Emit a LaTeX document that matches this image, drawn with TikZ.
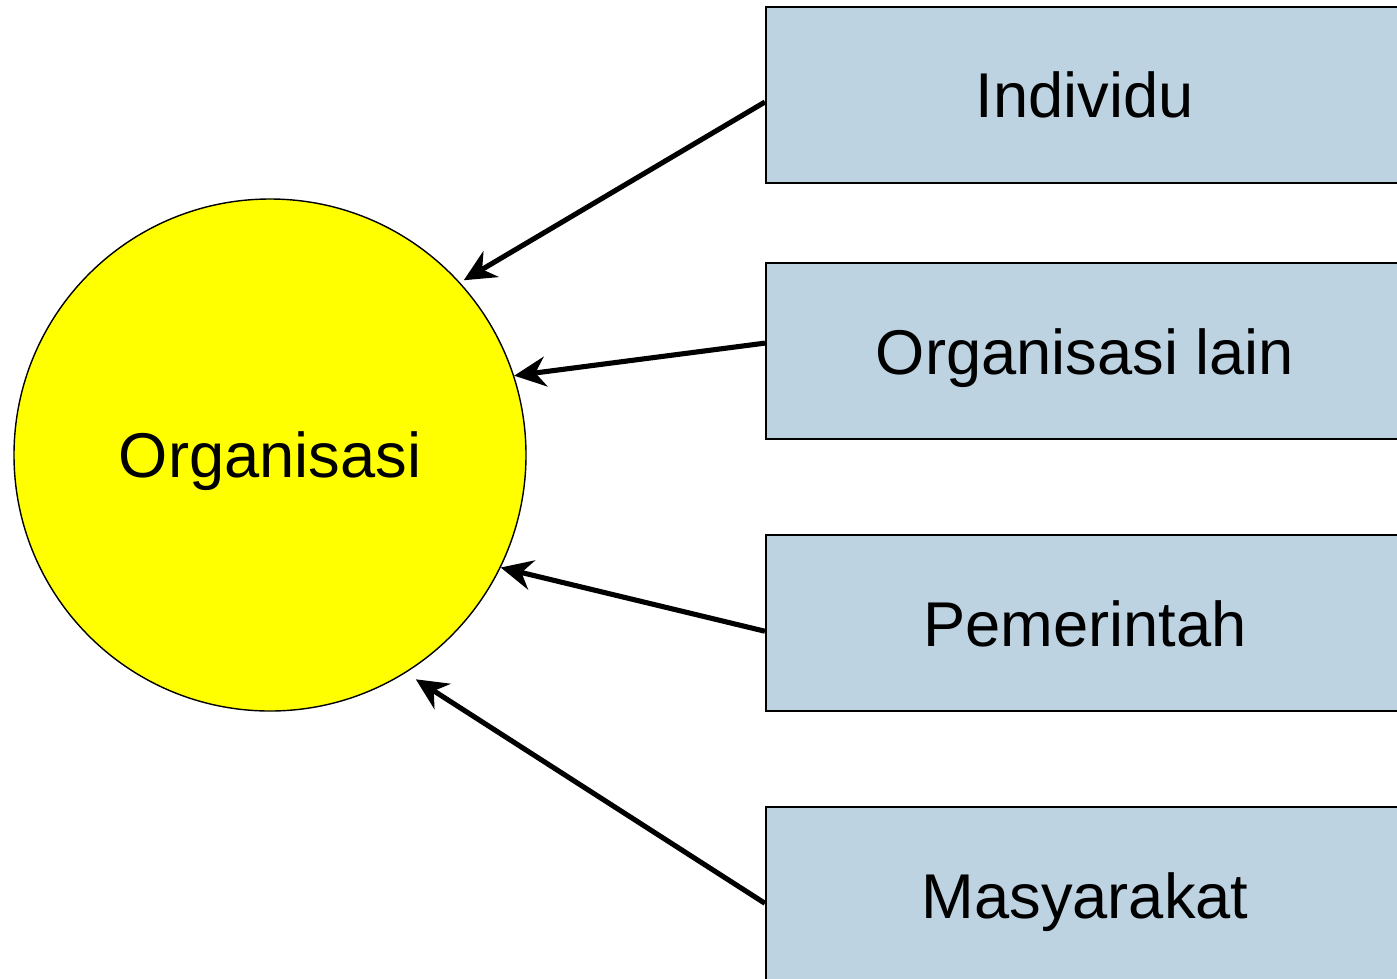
\documentclass[tikz,border=0pt]{standalone}
\usepackage{fontspec}
\setmainfont{Liberation Sans}
\usepackage{tikz}
\usetikzlibrary{positioning,arrows.meta}
\usepackage{xcolor}
\definecolor{boxblue}{RGB}{189,211,225}
\definecolor{kuning}{RGB}{255,255,0}

\begin{document}
\begin{tikzpicture}[%
    ->,
    >={Stealth[length=9pt,width=8.5pt]},
    line width=1.45pt,
    node distance=0.94cm,
    pihak/.style={%
      rectangle,
      fill=boxblue,
      draw,
      line width=0.6pt,
      minimum width=6.38cm,
      minimum height=1.76cm,
      inner sep=0pt,
      text depth=0pt,
      font=\fontsize{18}{22}\selectfont
    },
    pusat/.style={%
      circle,
      fill=kuning,
      draw,
      line width=0.4pt,
      minimum size=5.12cm,
      inner sep=0pt,
      text depth=0pt,
      font=\fontsize{18}{22}\selectfont
    }
  ]
    \clip (0,0) rectangle (13.97,-9.78);
    \node[pusat] (org) at (2.70,-4.55)                     {Organisasi};
    \node[pihak] (ind) at (10.85,-0.95)                    {Individu};
    \node[pihak] (lain) [node distance=0.78cm,below=of ind] {Organisasi lain};
    \node[pihak] (pem) [below=of lain]                     {Pemerintah};
    \node[pihak] (mas) [below=of pem]                      {Masyarakat};

    \draw ([yshift=-0.07cm]ind.west)  -- ([shift={(0.03,0.03)}]org.42);
    \draw ([yshift=0.08cm]lain.west)  -- (org.18);
    \draw ([yshift=-0.08cm]pem.west)  -- (org.-26);
    \draw ([yshift=-0.08cm]mas.west)  -- ([shift={(0.06,-0.09)}]org.-57);
  \end{tikzpicture}
\end{document}
